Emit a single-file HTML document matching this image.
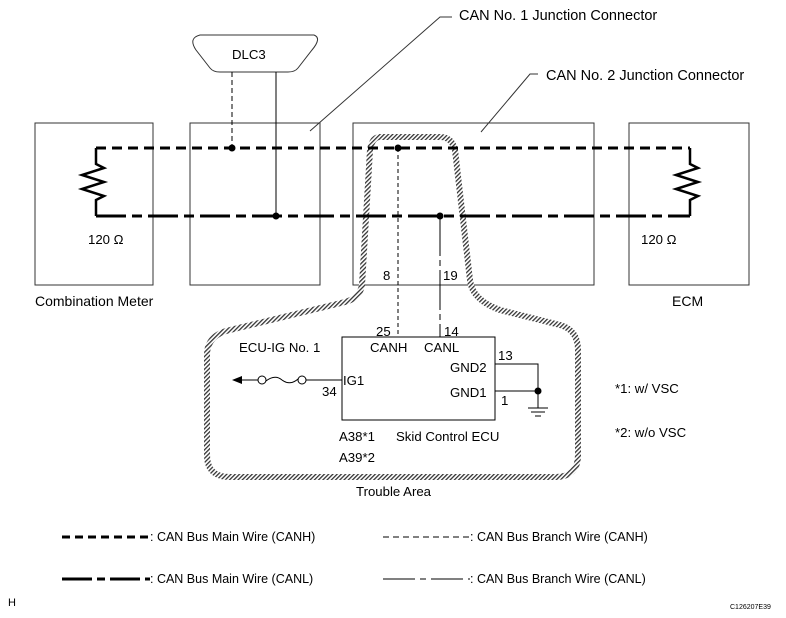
<!DOCTYPE html>
<html><head><style>
body{margin:0;background:#fff}
svg{display:block}
text{font-family:"Liberation Sans",sans-serif;font-size:13.2px;fill:#000}
</style></head><body>
<svg width="786" height="618" viewBox="0 0 786 618" xmlns="http://www.w3.org/2000/svg">
<defs>
<pattern id="h" width="3" height="3" patternUnits="userSpaceOnUse" patternTransform="rotate(45)">
<rect width="3" height="3" fill="#fff"/><rect width="1.3" height="3" fill="#333"/>
</pattern>
</defs>
<g fill="none" stroke="#333" stroke-width="1">
<rect x="35" y="123" width="118" height="162"/>
<rect x="190" y="123" width="130" height="162"/>
<rect x="353" y="123" width="241" height="162"/>
<rect x="629" y="123" width="120" height="162"/>
<path d="M200,35 H314 Q322,38 312,50 L298,68 Q295,72 288,72 H220 Q213,72 210,68 L196,50 Q188,38 200,35Z"/>
<path d="M310,131 L440,17 H452"/>
<path d="M481,132 L530,74 H538"/>
</g>
<path d="M380,137 H440 Q452,137 455,150 L470,280 Q472,300 500,310 L560,325 Q578,330 578,350 V455 Q578,477 555,477 H230 Q207,477 207,455 V355 Q207,335 230,330 L345,302 Q360,298 362,285 L370,150 Q372,137 380,137Z" fill="none" stroke="url(#h)" stroke-width="6"/>
<path d="M96,148 H690" stroke="#000" stroke-width="3" stroke-dasharray="10,6" fill="none"/>
<path d="M96,216 H690" stroke="#000" stroke-width="3" stroke-dasharray="30,6,10,6" fill="none"/>
<g fill="none" stroke="#000" stroke-width="2.5">
<path d="M96,148 V164 L104,168 L82,175 L104,182 L82,189 L104,196 L96,200 V216"/>
<path d="M690,148 V164 L698,168 L676,175 L698,182 L676,189 L698,196 L690,200 V216"/>
</g>
<g stroke="#000" stroke-width="1" fill="none">
<path d="M232,72 V148" stroke-dasharray="5,3"/>
<path d="M276,72 V216"/>
<path d="M398,148 V337" stroke-dasharray="4,3"/>
<path d="M440,216 V337" stroke-dasharray="40,4,6,4"/>
<rect x="342" y="337" width="153" height="83"/>
<path d="M495,364 H538 V391 M495,391 H538 M538,391 V408 M528,408 H548 M531,412 H545 M535,416 H541"/>
<path d="M342,380 H306 M258,380 H240"/>
<circle cx="302" cy="380" r="4"/><circle cx="262" cy="380" r="4"/>
<path d="M266,381 Q275,374 282,380 Q290,386 298,379"/>
</g>
<path d="M232,380 L242,376 V384Z" fill="#000"/>
<g fill="#000">
<circle cx="232" cy="148" r="3.5"/><circle cx="276" cy="216" r="3.5"/>
<circle cx="398" cy="148" r="3.5"/><circle cx="440" cy="216" r="3.5"/>
<circle cx="538" cy="391" r="3.5"/>
</g>
<text x="232" y="59">DLC3</text>
<text x="459" y="20" style="font-size:14.5px">CAN No. 1 Junction Connector</text>
<text x="546" y="80" style="font-size:14.5px">CAN No. 2 Junction Connector</text>
<text x="88" y="244">120 Ω</text>
<text x="641" y="244">120 Ω</text>
<text x="35" y="306" style="font-size:14px">Combination Meter</text>
<text x="672" y="306" style="font-size:14px">ECM</text>
<text x="383" y="280">8</text>
<text x="443" y="280">19</text>
<text x="376" y="336">25</text>
<text x="444" y="336">14</text>
<text x="370" y="352">CANH</text>
<text x="424" y="352">CANL</text>
<text x="498" y="360">13</text>
<text x="450" y="372">GND2</text>
<text x="450" y="397">GND1</text>
<text x="501" y="405">1</text>
<text x="343" y="385">IG1</text>
<text x="322" y="396">34</text>
<text x="239" y="352">ECU-IG No. 1</text>
<text x="339" y="441">A38*1</text>
<text x="339" y="462">A39*2</text>
<text x="396" y="441">Skid Control ECU</text>
<text x="356" y="496">Trouble Area</text>
<text x="615" y="393">*1: w/ VSC</text>
<text x="615" y="437">*2: w/o VSC</text>
<g style="font-size:12.5px">
<path d="M62,537 H150" stroke="#000" stroke-width="3" stroke-dasharray="8,5"/>
<text x="150" y="541" style="font-size:12.5px">: CAN Bus Main Wire (CANH)</text>
<path d="M383,537 H470" stroke="#000" stroke-width="1" stroke-dasharray="6,4"/>
<text x="470" y="541" style="font-size:12.5px">: CAN Bus Branch Wire (CANH)</text>
<path d="M62,579 H150" stroke="#000" stroke-width="3" stroke-dasharray="30,5,8,5"/>
<text x="150" y="583" style="font-size:12.5px">: CAN Bus Main Wire (CANL)</text>
<path d="M383,579 H470" stroke="#000" stroke-width="1" stroke-dasharray="32,5,6,5"/>
<text x="470" y="583" style="font-size:12.5px">: CAN Bus Branch Wire (CANL)</text>
</g>
<text x="8" y="606" style="font-size:11px">H</text>
<text x="730" y="609" style="font-size:7px">C126207E39</text>
</svg>
</body></html>
